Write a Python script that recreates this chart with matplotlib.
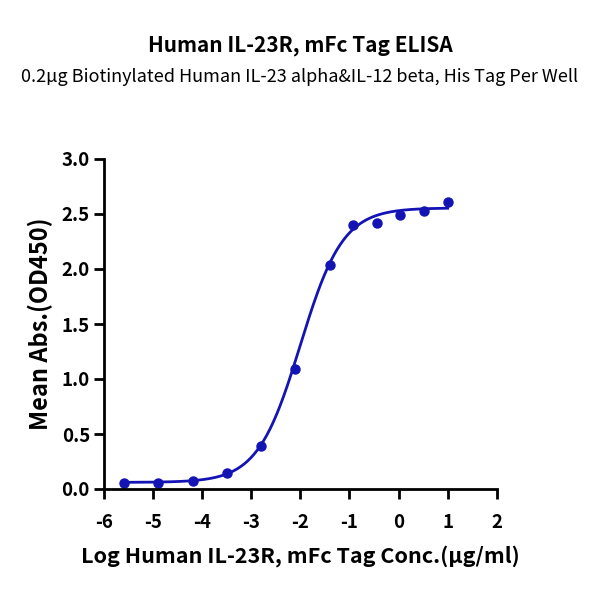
import numpy as np
import matplotlib.pyplot as plt

plt.rcParams['font.family'] = ['Noto Sans CJK SC', 'DejaVu Sans']
plt.rcParams['axes.unicode_minus'] = False

# measured points (log10 conc, mean OD450)
log_conc = [1.0, 0.52, 0.03, -0.445, -0.92, -1.40, -2.10, -2.80, -3.49, -4.19, -4.89, -5.59]
mean_abs = [2.61, 2.53, 2.495, 2.42, 2.40, 2.04, 1.09, 0.39, 0.145, 0.07, 0.054, 0.054]

# 4PL fit parameters
BOTTOM, TOP, LOG_EC50, HILL = 0.06, 2.555, -2.0, 1.0

BLUE = '#1414b4'


def four_pl(x):
    return BOTTOM + (TOP - BOTTOM) / (1 + 10 ** ((LOG_EC50 - x) * HILL))


fig = plt.figure(figsize=(6, 6), dpi=100)
ax = fig.add_axes([0.173, 0.185, 0.655, 0.55])

xs = np.linspace(min(log_conc), max(log_conc), 300)
ax.plot(xs, four_pl(xs), color=BLUE, lw=2)
ax.plot(log_conc, mean_abs, 'o', color=BLUE, ms=6.5)

ax.set_xlim(-6, 2)
ax.set_ylim(0, 3)
ax.set_xticks(range(-6, 3))
ax.set_yticks(np.arange(0, 3.01, 0.5))
ax.set_yticklabels([f"{v:.1f}" for v in np.arange(0, 3.01, 0.5)])
for s in ('top', 'right'):
    ax.spines[s].set_visible(False)
for s in ('left', 'bottom'):
    ax.spines[s].set_linewidth(2)
ax.tick_params(width=2, length=7, labelsize=13.5, pad=3)
for lab in ax.get_xticklabels() + ax.get_yticklabels():
    lab.set_fontweight('bold')
ax.xaxis.set_tick_params(pad=10)

ax.set_xlabel("Log Human IL-23R, mFc Tag Conc.(µg/ml)", fontsize=15.5, fontweight='bold', labelpad=10)
ax.set_ylabel("Mean Abs.(OD450)", fontsize=17, fontweight='bold', labelpad=6)

fig.text(0.5, 0.925, "Human IL-23R, mFc Tag ELISA", ha='center', va='center',
         fontsize=15, fontweight='bold')
fig.text(0.5, 0.872, "0.2µg Biotinylated Human IL-23 alpha&IL-12 beta, His Tag Per Well",
         ha='center', va='center', fontsize=13)

fig.savefig('out.png', dpi=100)
